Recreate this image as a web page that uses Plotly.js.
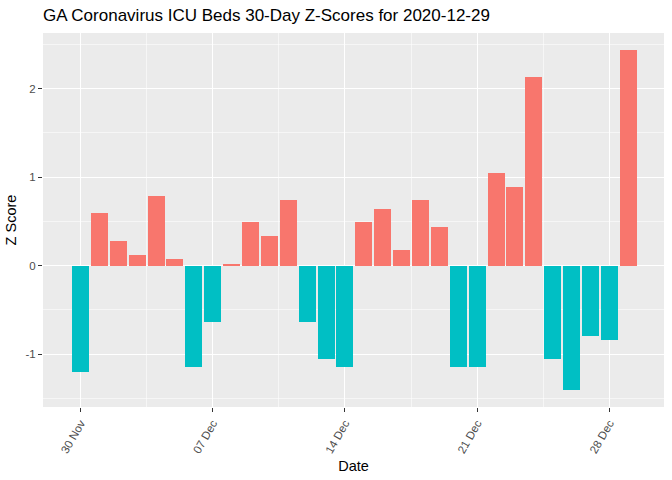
<!DOCTYPE html>
<html><head><meta charset="utf-8">
<script src="https://cdn.plot.ly/plotly-3.0.1.min.js"></script>
<style>html,body{margin:0;padding:0;background:#fff}#chart{width:672px;height:480px}</style>
</head><body><div id="chart"></div>
<script>
const dates = ["2020-11-30","2020-12-01","2020-12-02","2020-12-03","2020-12-04","2020-12-05","2020-12-06","2020-12-07","2020-12-08","2020-12-09","2020-12-10","2020-12-11","2020-12-12","2020-12-13","2020-12-14","2020-12-15","2020-12-16","2020-12-17","2020-12-18","2020-12-19","2020-12-20","2020-12-21","2020-12-22","2020-12-23","2020-12-24","2020-12-25","2020-12-26","2020-12-27","2020-12-28","2020-12-29"];
const zScores = [-1.20,0.59,0.28,0.12,0.79,0.08,-1.15,-0.64,0.02,0.49,0.33,0.74,-0.64,-1.05,-1.15,0.49,0.64,0.18,0.74,0.44,-1.15,-1.15,1.05,0.89,2.13,-1.05,-1.41,-0.80,-0.84,2.44];
const tickDates = ["2020-11-30","2020-12-07","2020-12-14","2020-12-21","2020-12-28"];
const tickLabels = ["30 Nov","07 Dec","14 Dec","21 Dec","28 Dec"];

const DAY = 86400000;
const colors = zScores.map(v => v >= 0 ? "#F8766D" : "#00BFC4");

const trace = {
  type: "bar", x: dates, y: zScores,
  width: zScores.map(() => 0.9 * DAY),
  marker: {color: colors, line: {width: 0}},
  hoverinfo: "x+y"
};

const layout = {
  width: 672, height: 480,
  margin: {l: 43, r: 8, t: 33, b: 73},
  paper_bgcolor: "#ffffff", plot_bgcolor: "#EBEBEB",
  showlegend: false,
  font: {family: "Liberation Sans, Arial, sans-serif"},
  title: {text: "GA Coronavirus ICU Beds 30-Day Z-Scores for 2020-12-29",
    x: 43/672, xanchor: "left", y: 1 - 15/480, yanchor: "middle",
    font: {size: 17, color: "#000"}},
  xaxis: {
    type: "date",
    range: ["2020-11-28 00:15", "2020-12-30 21:30"],
    tickvals: tickDates, ticktext: tickLabels,
    tickangle: -60,
    tickfont: {size: 11.5, color: "#4D4D4D"},
    ticks: "outside", ticklen: 4, tickcolor: "#333333", tickwidth: 1,
    showgrid: true, gridcolor: "#ffffff", gridwidth: 1.1,
    minor: {tickvals: ["2020-11-26 12:00","2020-12-03 12:00","2020-12-10 12:00","2020-12-17 12:00","2020-12-24 12:00"], showgrid: true, gridcolor: "#ffffff", gridwidth: 0.55, ticks: ""},
    zeroline: false, showline: false,
    title: {text: "Date", font: {size: 14.5, color: "#000"}, standoff: 6},
    automargin: false
  },
  yaxis: {
    range: [-1.598, 2.628],
    tickvals: [-1, 0, 1, 2], ticktext: ["-1","0","1","2"],
    tickfont: {size: 11.5, color: "#4D4D4D"},
    ticks: "outside", ticklen: 4, tickcolor: "#333333", tickwidth: 1,
    showgrid: true, gridcolor: "#ffffff", gridwidth: 1.1,
    minor: {tickvals: [-1.5,-0.5,0.5,1.5,2.5], showgrid: true, gridcolor: "#ffffff", gridwidth: 0.55, ticks: ""},
    zeroline: false, showline: false,
    title: {text: "Z Score", font: {size: 14.5, color: "#000"}, standoff: 5},
    automargin: false
  },
  bargap: 0
};

Plotly.newPlot("chart", [trace], layout, {displayModeBar: false, staticPlot: true});
</script></body></html>
